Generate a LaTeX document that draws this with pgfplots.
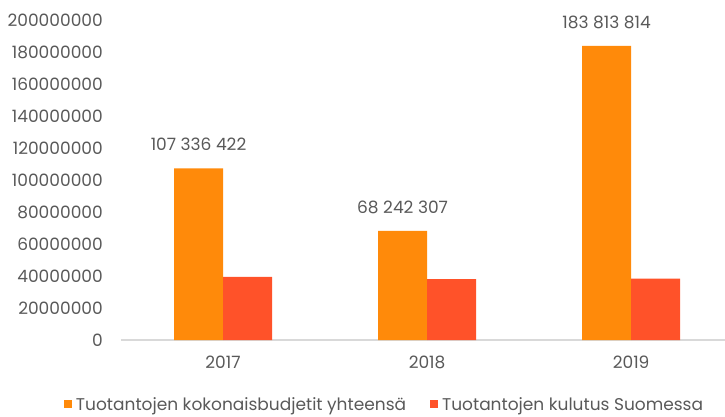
\documentclass[border=0pt]{standalone}
\usepackage{fontspec}
\setmainfont{Poppins}
\usepackage{pgfplots}
\pgfplotsset{compat=1.18}
\definecolor{orangebar}{HTML}{FF8A0A}
\definecolor{redbar}{HTML}{FF5229}
\definecolor{txtgray}{HTML}{595959}
\definecolor{axisgray}{HTML}{D9D9D9}

\begin{document}
\begin{tikzpicture}
\begin{axis}[
  at={(0,0)}, anchor=south west, scale only axis,
  width=604bp, height=320bp,
  xmin=-0.5, xmax=2.46, ymin=0, ymax=200000000,
  ybar=0pt, bar width=49bp,
  scaled y ticks=false,
  axis x line*=bottom, axis y line*=left,
  y axis line style={draw=none},
  x axis line style={-, draw=axisgray, line width=1.7bp},
  major tick length=0pt, tick style={draw=none},
  xtick={0,1,2}, xticklabels={2017,2018,2019},
  ytick={0,20000000,40000000,60000000,80000000,100000000,120000000,140000000,160000000,180000000,200000000},
  yticklabels={0,20000000,40000000,60000000,80000000,100000000,120000000,140000000,160000000,180000000,200000000},
  ticklabel style={font=\fontsize{17bp}{20bp}\selectfont, text=txtgray, inner sep=0pt},
  yticklabel style={anchor=east, xshift=-18bp},
  xticklabel style={anchor=base, yshift=-28bp},
  legend style={at={(-0.09437,-0.2031)}, anchor=west, draw=none, fill=none,
    inner sep=0pt, outer sep=0pt, legend columns=2,
    font=\fontsize{17bp}{20bp}\selectfont, text=txtgray,
    /tikz/every odd column/.append style={column sep=2bp},
    /tikz/every even column/.append style={column sep=22bp}},
  legend cell align=left,
  legend image code/.code={\fill[#1] (0bp,-3bp) rectangle (8bp,5bp);},
]
\addplot[fill=orangebar, draw=none,
  nodes near coords, point meta=explicit symbolic,
  every node near coord/.append style={anchor=base, inner sep=0pt, yshift=17.6bp,
    font=\fontsize{17bp}{20bp}\selectfont, text=txtgray}]
  coordinates {(0,107336422) [107 336 422] (1,68242307) [68 242 307] (2,183813814) [183 813 814]};
\addplot[fill=redbar, draw=none]
  coordinates {(0,39500000) (1,38100000) (2,38300000)};
\legend{Tuotantojen kokonaisbudjetit yhteensä, Tuotantojen kulutus Suomessa}
\end{axis}
\pgfresetboundingbox
\path (-121bp,-77bp) rectangle (604bp,340bp);
\end{tikzpicture}
\end{document}
